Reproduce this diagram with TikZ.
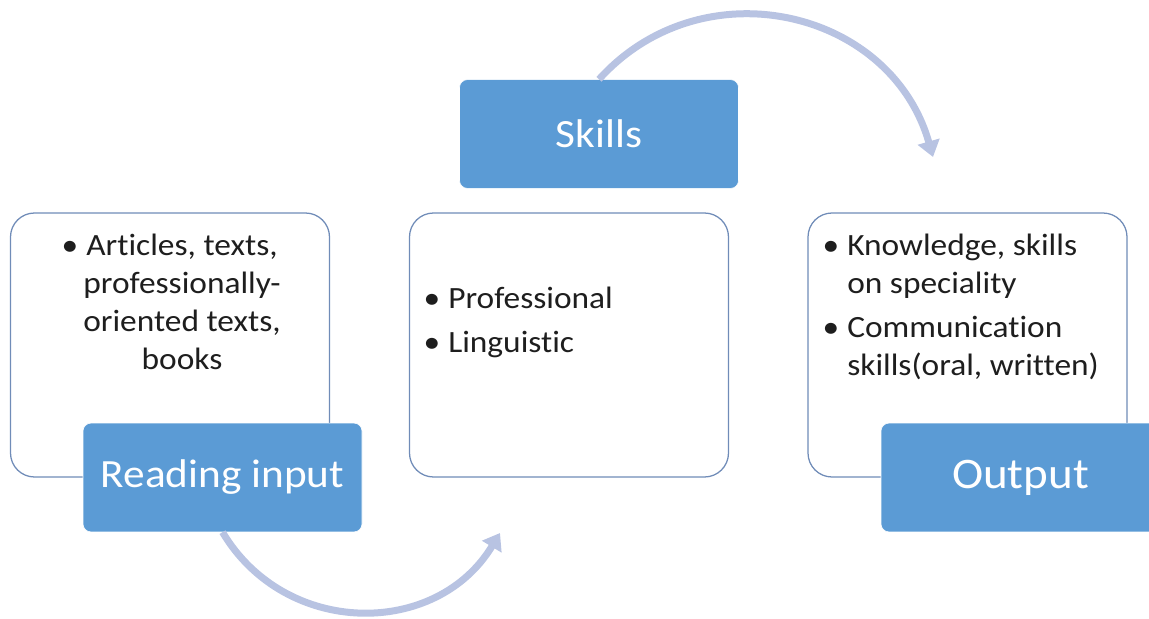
\documentclass[tikz,border=0pt]{standalone}
\usepackage{fontspec}
\setmainfont{Carlito}[FakeStretch=1.08, Ligatures=NoCommon]
\usepackage{tikz}
\usetikzlibrary{arrows.meta, positioning}
\definecolor{tabblue}{RGB}{91,155,213}
\definecolor{cardedge}{RGB}{112,140,184}
\definecolor{arcblue}{RGB}{184,195,226}
\definecolor{bodytext}{RGB}{30,30,30}

\begin{document}
\begin{tikzpicture}[
    card/.style={draw=cardedge, line width=0.9pt, fill=white, rounded corners=0.6cm,
        minimum width=7.975cm, minimum height=6.6cm},
    heading/.style={draw=white, thin, fill=tabblue, rounded corners=0.2cm, text=white,
        minimum width=6.975cm, minimum height=2.72cm, font=\fontsize{28.5}{34}\selectfont},
    bullets/.style={inner sep=0pt, text=bodytext, font=\fontsize{22}{27}\selectfont},
    arrow/.style={-{Triangle[width=0.55cm,length=0.4cm]}, line width=0.175cm, draw=arcblue}
]
\useasboundingbox (0,0) rectangle (28.725,-15.475);
\clip (0,0) rectangle (28.725,-15.475);
% white cards
\node[card] (readcard) at (4.25,-8.625) {};
\node[card] (skillcard) at (14.225,-8.625) {};
\node[card] (outcard) at (24.1875,-8.625) {};
% card texts
\node[bullets, align=center, anchor=north] (readtxt) at (4.55,-5.85)
    {\llap{\textbullet\hspace{0.2cm}}Articles, texts,\\professionally-\\oriented texts,\\books};
\node[bullets, align=left, anchor=north west] (skilltxt) at (11.2,-7.18)
    {\llap{\textbullet\hspace{0.2cm}}Professional\\[0.14cm]\llap{\textbullet\hspace{0.2cm}}Linguistic};
\node[bullets, align=left, anchor=north west] (outtxt) at (21.175,-5.85)
    {\llap{\textbullet\hspace{0.2cm}}Knowledge, skills\\on speciality\\[0.15cm]%
     \llap{\textbullet\hspace{0.2cm}}Communication\\skills(oral, written)};
% blue tabs
\node[heading] (readtab) at (5.5625,-11.9375) {Reading input};
\node[heading] (skilltab) at (14.975,-3.35) {Skills};
\node[heading, font=\fontsize{31}{36}\selectfont] (outtab) at (25.5125,-11.9375) {Output};
% curved arrows
\coordinate (skillend) at (23.325,-3.925);
\coordinate (readend) at (12.5,-13.325);
\draw[arrow] (skilltab.north) to[bend left=61, looseness=1.15] (skillend);
\draw[arrow] (readtab.south) to[bend right=59, looseness=1.13] (readend);
\end{tikzpicture}
\end{document}
